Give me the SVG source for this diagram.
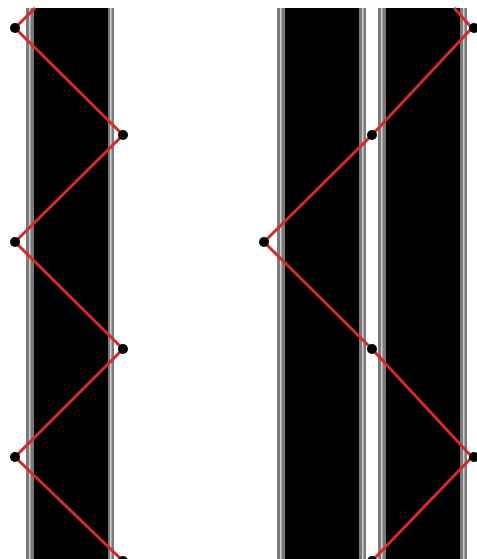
<svg xmlns="http://www.w3.org/2000/svg" width="477" height="559" viewBox="0 0 477 559">
<defs>
<style>
.edge{fill:#7a7a7a}
.hl{fill:#d0d0d0}
.core{fill:#000}
.ray{fill:none;stroke:#d42a2a;stroke-width:3;stroke-linejoin:miter}
.dot{fill:#000}
</style>
</defs>
<rect width="477" height="559" fill="#fff"/>
<g id="bar1">
<rect class="edge" x="26" y="8" width="88" height="551"/>
<rect class="hl" x="29" y="8" width="1.5" height="551"/>
<rect class="hl" x="110" y="8" width="1.5" height="551"/>
<rect class="core" x="34" y="8" width="74" height="551"/>
</g>
<g id="bar2">
<rect class="edge" x="277" y="8" width="89" height="551"/>
<rect class="hl" x="280" y="8" width="1.5" height="551"/>
<rect class="hl" x="362" y="8" width="1.5" height="551"/>
<rect class="core" x="285" y="8" width="74" height="551"/>
</g>
<g id="bar3">
<rect class="edge" x="378" y="8" width="89" height="551"/>
<rect class="hl" x="381" y="8" width="1.5" height="551"/>
<rect class="hl" x="463" y="8" width="1.5" height="551"/>
<rect class="core" x="386" y="8" width="74" height="551"/>
</g>
<g id="connectors">
<polyline class="ray" points="35,8 15,28 123,135 15,242 123,349 15,457 123,561"/>
<polyline class="ray" points="454,8 472,28 372,135 264,242 372,349 472,457 372,561"/>
</g>
<g id="points">
<circle class="dot" cx="15" cy="28" r="5"/>
<circle class="dot" cx="123" cy="135" r="5"/>
<circle class="dot" cx="15" cy="242" r="5"/>
<circle class="dot" cx="123" cy="349" r="5"/>
<circle class="dot" cx="15" cy="457" r="5"/>
<circle class="dot" cx="123" cy="561" r="5"/>
<circle class="dot" cx="474" cy="28" r="5"/>
<circle class="dot" cx="372" cy="135" r="5"/>
<circle class="dot" cx="264" cy="242" r="5"/>
<circle class="dot" cx="372" cy="349" r="5"/>
<circle class="dot" cx="474" cy="457" r="5"/>
<circle class="dot" cx="372" cy="561" r="5"/>
</g>
</svg>
